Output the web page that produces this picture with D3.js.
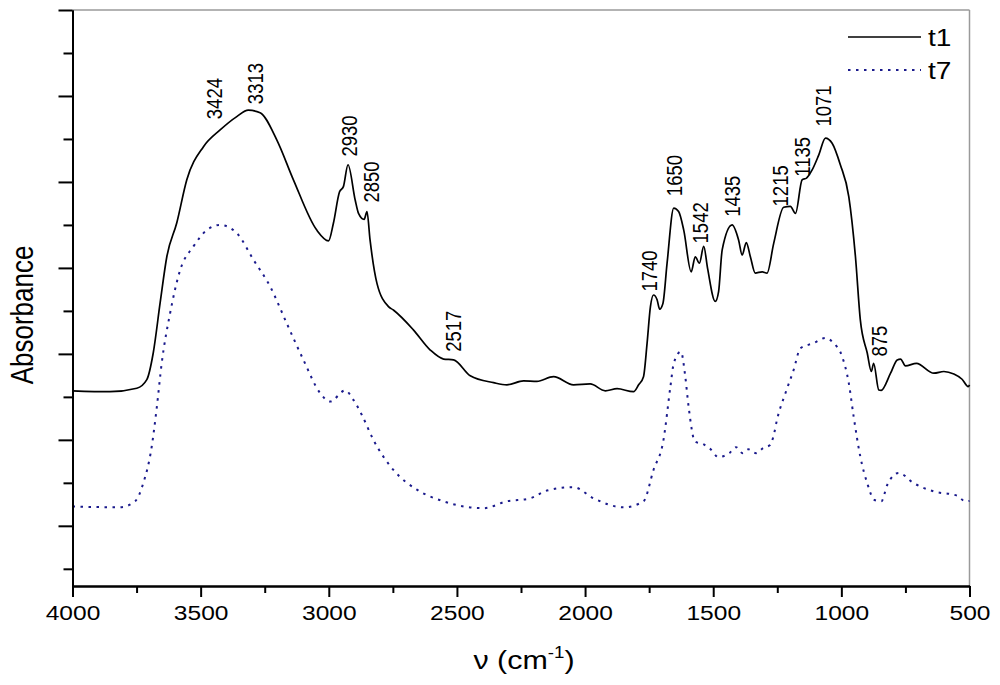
<!DOCTYPE html>
<html>
<head>
<meta charset="utf-8">
<script src="https://cdn.jsdelivr.net/npm/d3@7"></script>
<style>
  html, body { margin: 0; padding: 0; background: #fff; }
  svg { display: block; font-family: Arial, "Liberation Sans", sans-serif; }
</style>
</head>
<body>
<svg id="chart" width="1000" height="685"></svg>
<script>
// ---- data ----
const t1Wavenumber = [4000,3854,3749,3710,3685,3658,3632,3593,3554,3489,3424,3359,3314,3268,3203,3138,3047,3001,2982,2958,2943,2925,2897,2884,2862,2851,2839,2812,2767,2748,2670,2604,2552,2513,2448,2357,2305,2240,2188,2123,2045,1980,1921,1875,1811,1791,1772,1758,1745,1733,1719,1709,1696,1680,1654,1635,1615,1586,1570,1554,1537,1522,1492,1479,1465,1426,1401,1387,1371,1355,1336,1309,1290,1264,1225,1199,1179,1153,1136,1114,1088,1062,1036,1004,971,945,926,899,883,874,854,845,808,782,769,750,707,639,600,561,529,505,500];
const t1Absorbance = [0.314,0.312,0.320,0.340,0.402,0.519,0.626,0.705,0.805,0.882,0.921,0.952,0.967,0.961,0.898,0.805,0.688,0.663,0.704,0.777,0.789,0.840,0.758,0.727,0.713,0.731,0.665,0.564,0.510,0.502,0.456,0.409,0.388,0.386,0.349,0.333,0.328,0.337,0.336,0.347,0.328,0.330,0.314,0.319,0.312,0.328,0.347,0.425,0.510,0.537,0.526,0.504,0.518,0.611,0.739,0.731,0.688,0.591,0.626,0.611,0.650,0.599,0.522,0.545,0.642,0.700,0.665,0.630,0.659,0.626,0.588,0.591,0.588,0.657,0.741,0.743,0.727,0.805,0.809,0.828,0.863,0.902,0.890,0.840,0.766,0.626,0.479,0.402,0.359,0.378,0.316,0.315,0.355,0.386,0.388,0.372,0.378,0.355,0.359,0.353,0.341,0.324,0.328];

const t7Wavenumber = [4000,3815,3756,3724,3691,3671,3652,3619,3580,3528,3476,3424,3359,3294,3229,3164,3099,3034,2995,2936,2904,2871,2826,2748,2656,2552,2396,2305,2214,2149,2045,1967,1850,1772,1733,1694,1667,1654,1626,1609,1596,1571,1539,1510,1480,1437,1411,1385,1363,1333,1305,1278,1265,1251,1218,1186,1160,1108,1062,1030,997,971,952,926,899,871,844,821,776,717,639,548,516,500];
const t7Absorbance = [0.045,0.043,0.057,0.099,0.184,0.276,0.378,0.495,0.595,0.650,0.688,0.700,0.681,0.619,0.557,0.471,0.386,0.309,0.289,0.315,0.293,0.258,0.200,0.130,0.084,0.057,0.041,0.057,0.064,0.082,0.090,0.064,0.043,0.057,0.130,0.200,0.324,0.378,0.405,0.347,0.277,0.196,0.190,0.178,0.160,0.169,0.183,0.169,0.178,0.169,0.181,0.188,0.208,0.247,0.309,0.363,0.413,0.425,0.437,0.425,0.394,0.332,0.254,0.161,0.099,0.060,0.057,0.095,0.123,0.099,0.080,0.070,0.057,0.058];

const seriesNames = ["t1", "t7"];

// peak annotations: label, anchor wavenumber, anchor absorbance
const peakLabels = ["3424","3313","2930","2850","2517","1740","1650","1542","1435","1215","1135","1071","875"];
const peakLabelV = [3418,3257,2890,2805,2484,1721,1620,1522,1395,1209,1122,1039,823];
const peakLabelA = [0.946,0.981,0.859,0.752,0.405,0.545,0.767,0.657,0.719,0.743,0.812,0.929,0.394];

const xTickMajor = [4000,3500,3000,2500,2000,1500,1000,500];
const xTickMinor = [3750,3250,2750,2250,1750,1250,750];
const yTickMajor = [0,0.2,0.4,0.6,0.8,1.0,1.2];
const yTickMinor = [-0.1,0.1,0.3,0.5,0.7,0.9,1.1];

(function () {
// ---- layout ----
const svg = d3.select("#chart");
const pL = 72.5, pR = 969.5, pT = 10, pB = 586;
const x = d3.scaleLinear().domain([4000, 500]).range([pL, pR]);
const y = d3.scaleLinear().domain([-0.14, 1.2]).range([pB, pT]);
const SX = 1.17;

// frame (top / right, gray)
svg.append("line").attr("x1", pL).attr("x2", pR).attr("y1", pT).attr("y2", pT)
  .attr("stroke", "#9a9a9a").attr("stroke-width", 1.5);
svg.append("line").attr("x1", pR).attr("x2", pR).attr("y1", pT).attr("y2", pB)
  .attr("stroke", "#9a9a9a").attr("stroke-width", 1.5);

// curves
const line = d3.line().curve(d3.curveMonotoneX);
const t1 = t1Wavenumber.map((v, i) => [x(v), y(t1Absorbance[i])]);
const t7 = t7Wavenumber.map((v, i) => [x(v), y(t7Absorbance[i])]);

svg.append("path").attr("d", line(t7)).attr("fill", "none")
  .attr("stroke", "#1a1a8c").attr("stroke-width", 2).attr("stroke-dasharray", "2.5,5.5");
svg.append("path").attr("d", line(t1)).attr("fill", "none")
  .attr("stroke", "#000").attr("stroke-width", 1.7).attr("stroke-linejoin", "round");

// x axis
const gxMinor = svg.append("g").attr("transform", `translate(0,${pB})`)
  .call(d3.axisBottom(x).tickValues(xTickMinor).tickSize(7).tickFormat("").tickSizeOuter(0));
const gx = svg.append("g").attr("transform", `translate(0,${pB})`)
  .call(d3.axisBottom(x).tickValues(xTickMajor).tickSize(11).tickPadding(8).tickSizeOuter(0).tickFormat(d3.format("d")));
[gx, gxMinor].forEach(g => {
  g.select(".domain").attr("stroke", "#000").attr("stroke-width", 2);
  g.selectAll(".tick line").attr("stroke", "#000").attr("stroke-width", 2);
});
gx.selectAll(".tick text").attr("font-size", 21).attr("fill", "#000")
  .attr("font-family", "Arial, 'Liberation Sans', sans-serif")
  .attr("transform", `scale(${SX},1)`);

// y axis
const gyMinor = svg.append("g").attr("transform", `translate(${pL},0)`)
  .call(d3.axisLeft(y).tickValues(yTickMinor).tickSize(9).tickFormat("").tickSizeOuter(0));
const gy = svg.append("g").attr("transform", `translate(${pL},0)`)
  .call(d3.axisLeft(y).tickValues(yTickMajor).tickSize(14).tickFormat("").tickSizeOuter(0));
[gy, gyMinor].forEach(g => {
  g.select(".domain").attr("stroke", "#000").attr("stroke-width", 2);
  g.selectAll(".tick line").attr("stroke", "#000").attr("stroke-width", 2);
});

// axis titles
const xt = svg.append("text")
  .attr("transform", `translate(${(pL + pR) / 2 + 3},669) scale(${SX},1)`)
  .attr("text-anchor", "middle").attr("font-size", 26).attr("fill", "#000");
xt.append("tspan").text("ν (cm");
xt.append("tspan").text("-1").attr("font-size", 16).attr("dy", -11);
xt.append("tspan").text(")").attr("dy", 11);

svg.append("text")
  .attr("transform", `translate(33,${(pT + pB) / 2 + 17}) rotate(-90) scale(1,1.18)`)
  .attr("text-anchor", "middle").attr("font-size", 26).attr("fill", "#000")
  .text("Absorbance");

// peak labels
peakLabels.forEach((lab, i) => {
  svg.append("text")
    .attr("transform", `translate(${x(peakLabelV[i])},${y(peakLabelA[i])}) rotate(-90) scale(1,1.22)`)
    .attr("text-anchor", "start").attr("font-size", 18.5).attr("fill", "#000")
    .text(lab);
});

// legend
const legendStyles = [
  { stroke: "#000", width: 1.7, dash: null },
  { stroke: "#1a1a8c", width: 2, dash: "2.5,5.5" }
];
seriesNames.forEach((name, i) => {
  const ly = 37 + i * 33;
  const l = svg.append("line").attr("x1", 848).attr("x2", 921).attr("y1", ly).attr("y2", ly)
    .attr("stroke", legendStyles[i].stroke).attr("stroke-width", legendStyles[i].width);
  if (legendStyles[i].dash) l.attr("stroke-dasharray", legendStyles[i].dash);
  svg.append("text").attr("transform", `translate(928,${ly + 9}) scale(${SX},1)`)
    .attr("font-size", 24).attr("fill", "#000").text(name);
});
})();
</script>
</body>
</html>
